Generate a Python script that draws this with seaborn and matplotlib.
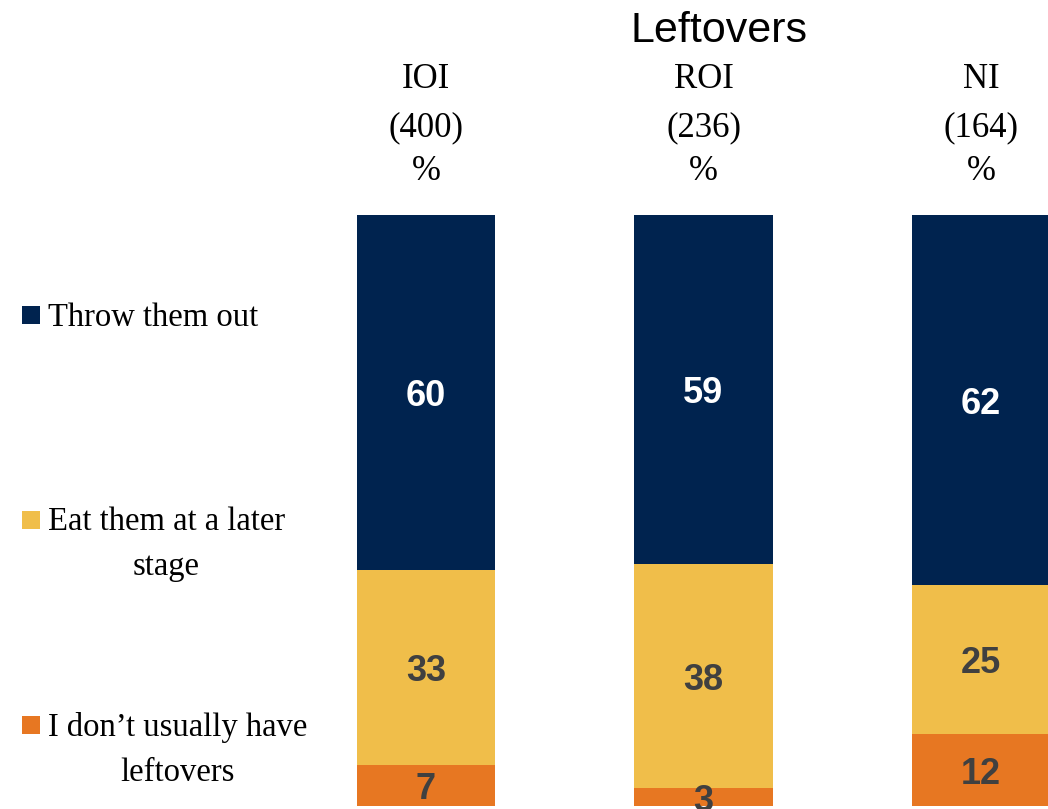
import matplotlib
matplotlib.use("Agg")
import matplotlib.pyplot as plt
import matplotlib.transforms as mtransforms
from matplotlib.patches import Rectangle
import pandas as pd
import seaborn as sns

# ==== data ====
groups = ["IOI", "ROI", "NI"]
bases = ["(400)", "(236)", "(164)"]
throw_out = [60, 59, 62]
eat_later = [33, 38, 25]
no_leftovers = [7, 3, 12]

legend_labels = ["Throw them out", "Eat them at a later\nstage", "I don\u2019t usually have\nleftovers"]
colors = ["#00234F", "#F0BE4A", "#E77722"]

df = pd.DataFrame({
    "Group": groups,
    "Throw": throw_out,
    "Eat": eat_later,
    "None": no_leftovers,
})
# 100% stacked: scale each column to its own total
total = df["Throw"] + df["Eat"] + df["None"]
df["top_throw"] = 100.0
df["top_eat"] = (df["Eat"] + df["None"]) / total * 100
df["top_none"] = df["None"] / total * 100

W, H = 1048, 809
fig = plt.figure(figsize=(W / 100, H / 100), dpi=100)
sns.set_style("white")

ax_left = 293.4
ax = fig.add_axes([ax_left / W, 3 / H, (W - ax_left) / W, (806 - 215) / H])

for col, c in zip(["top_throw", "top_eat", "top_none"], colors):
    sns.barplot(data=df, x="Group", y=col, color=c, width=0.5, ax=ax,
                saturation=1, edgecolor="none", linewidth=0)

ax.set_xlim(-(426 - ax_left) / 277.5, 2 + (W - 981) / 277.5)
ax.set_ylim(0, 100)
ax.axis("off")

# segment labels (nudged slightly down so the digits sit centred)
nudge = 0.7
lbl = dict(ha="center", va="center", fontsize=26, fontweight="bold",
           family="Liberation Sans", clip_on=False)
for i in range(len(groups)):
    n_top = df["top_none"][i]
    e_top = df["top_eat"][i]
    ax.text(i, (e_top + 100) / 2 - nudge, str(throw_out[i]), color="white", **lbl)
    ax.text(i, (n_top + e_top) / 2 - nudge, str(eat_later[i]), color="#404040", **lbl)
    ax.text(i, n_top / 2 - nudge, str(no_leftovers[i]), color="#404040", **lbl)

# column headers
trans = mtransforms.blended_transform_factory(ax.transData, fig.transFigure)
for i in range(len(groups)):
    for txt, ypx in [(groups[i], 80), (bases[i], 128), ("%", 172)]:
        ax.text(i, 1 - ypx / H, txt, transform=trans, ha="center", va="center",
                fontsize=25, family="Liberation Serif", color="black")

fig.text(719 / W, 1 - 31 / H, "Leftovers", ha="center", va="center",
         fontsize=31, family="Liberation Sans", color="black")

# legend on the left
leg_first = [315, 520, 725]
for lab, c, ypx in zip(legend_labels, colors, leg_first):
    fig.patches.append(Rectangle((22 / W, 1 - (ypx + 9) / H), 18 / W, 18 / H,
                                 transform=fig.transFigure, facecolor=c, edgecolor="none"))
    fig.text(48 / W, 1 - (ypx - 13) / H, lab, ha="left", va="top", multialignment="center",
             fontsize=23.5, family="Liberation Serif", color="black", linespacing=1.6)

fig.savefig("out.png", dpi=100)
